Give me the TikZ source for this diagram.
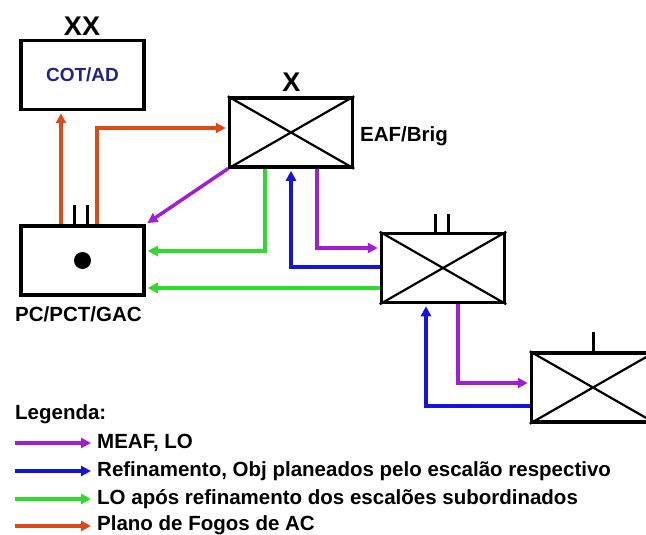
\documentclass[tikz,border=0pt]{standalone}
\usepackage{fontspec}
\setmainfont{Liberation Sans}
\usepackage{xcolor}
\usetikzlibrary{arrows.meta, positioning}

\definecolor{meaf}{HTML}{A11ED6}
\definecolor{refin}{HTML}{1414DC}
\definecolor{lopos}{HTML}{2EDC2E}
\definecolor{fogos}{HTML}{DC4A16}
\definecolor{cotblue}{HTML}{22228C}

\begin{document}
\begin{tikzpicture}[x=1pt, y=-1pt,
    unitbox/.style={rectangle, draw=black, line width=3.5pt, fill=white, minimum width=123pt, minimum height=69pt, inner sep=0pt},
    lbl/.style={font=\fontsize{20.5}{24}\selectfont\bfseries, inner sep=0pt},
    echelon/.style={font=\fontsize{27}{30}\selectfont\bfseries, inner sep=0pt},
    flow/.style={-{Triangle[length=10pt, width=10pt]}, line width=3.5pt, shorten >=2pt},
    tick/.style={line width=3pt}
]
    \useasboundingbox (0,0) rectangle (646,535);
    \clip (0,0) rectangle (646,535);

    \node[unitbox, font=\fontsize{19}{22}\selectfont\bfseries, text=cotblue] (cot) at (82.5,75) {COT/AD};
    \node[echelon] (cotech) at (82,26) {XX};

    \node[unitbox] (eaf) at (291,132.5) {};
    \node[echelon] (eafech) at (291.5,82) {X};
    \node[lbl, anchor=base west] (eaflbl) at (360,142) {EAF/Brig};

    \node[unitbox] (bat) at (443,268) {};
    \node[unitbox] (cia) at (593,387.5) {};

    \node[unitbox] (pc) at (82.5,260.5) {};
    \fill (pc.center) circle (8.5);
    \node[lbl, anchor=base west] (pclbl) at (15,321) {PC/PCT/GAC};

    \foreach \u in {eaf,bat,cia}
        \draw[line width=2.2pt] (\u.north west) -- (\u.south east) (\u.north east) -- (\u.south west);

    \draw[tick] ([xshift=-8pt]pc.north) -- ++(0,-19);
    \draw[tick] ([xshift=5pt]pc.north) -- ++(0,-19);
    \draw[tick] ([xshift=-8pt]bat.north) -- ++(0,-18);
    \draw[tick] ([xshift=5pt]bat.north) -- ++(0,-18);
    \draw[tick] (cia.north) -- ++(0,-19);

    \draw[flow, fogos] ([xshift=-21.5pt]pc.north) -- ([xshift=-21.5pt]cot.south);
    \draw[flow, fogos] ([xshift=14.5pt]pc.north) |- ([yshift=4.5pt]eaf.west);
    \draw[flow, meaf] (eaf.south west) -- (pc.north east);
    \draw[flow, lopos] ([xshift=-26pt]eaf.south) |- ([yshift=9.5pt]pc.east);
    \draw[flow, refin] ([yshift=1pt]bat.west) -| (eaf.south);
    \draw[flow, meaf] ([xshift=26pt]eaf.south) |- ([yshift=20pt]bat.west);
    \draw[flow, lopos] ([yshift=-20pt]bat.west) -- ([yshift=-20pt]bat.west -| pc.east);
    \draw[flow, refin] ([yshift=-18.5pt]cia.west) -| ([xshift=-17pt]bat.south);
    \draw[flow, meaf] ([xshift=15pt]bat.south) |- ([yshift=4.5pt]cia.west);

    \node[lbl, anchor=base west] (legenda) at (15,419) {Legenda:};
    \node[lbl, anchor=base west] (k1) at (97,448) {MEAF, LO};
    \node[lbl, anchor=base west] (k2) at (97,476) {Refinamento, Obj planeados pelo escalão respectivo};
    \node[lbl, anchor=base west] (k3) at (97,504) {LO após refinamento dos escalões subordinados};
    \node[lbl, anchor=base west] (k4) at (97,530.5) {Plano de Fogos de AC};

    \coordinate (s1) at (15,443);
    \coordinate (s2) at (15,471);
    \coordinate (s3) at (15,499);
    \coordinate (s4) at (15,526);
    \draw[flow, meaf, shorten >=6pt] (s1) -- (s1 -| k1.west);
    \draw[flow, refin, shorten >=6pt] (s2) -- (s2 -| k2.west);
    \draw[flow, lopos, shorten >=6pt] (s3) -- (s3 -| k3.west);
    \draw[flow, fogos, shorten >=6pt] (s4) -- (s4 -| k4.west);
\end{tikzpicture}
\end{document}
